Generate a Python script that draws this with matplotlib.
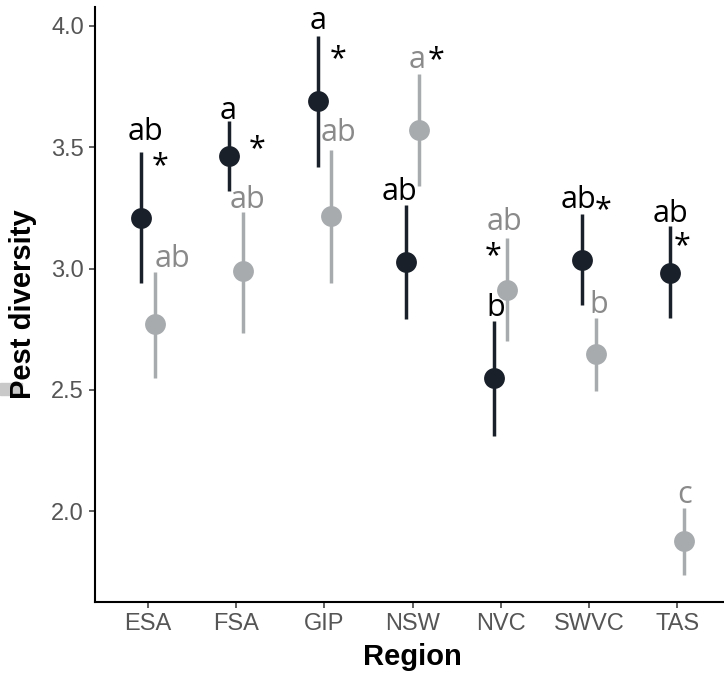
import numpy as np
import matplotlib
matplotlib.use("Agg")
import matplotlib.pyplot as plt
from matplotlib.patches import Rectangle

regions = ["ESA", "FSA", "GIP", "NSW", "NVC", "SWVC", "TAS"]

# dark series
dark_mean = [3.21, 3.465, 3.69, 3.025, 2.55, 3.037, 2.98]
dark_lo = [2.94, 3.32, 3.42, 2.79, 2.31, 2.85, 2.795]
dark_hi = [3.48, 3.61, 3.96, 3.26, 2.785, 3.225, 3.175]
dark_letters = ["ab", "a", "a", "ab", "b", "ab", "ab"]
dark_star = [True, True, True, False, False, True, True]

# grey series
grey_mean = [2.77, 2.99, 3.215, 3.57, 2.912, 2.646, 1.877]
grey_lo = [2.548, 2.735, 2.94, 3.34, 2.70, 2.495, 1.737]
grey_hi = [2.985, 3.235, 3.49, 3.80, 3.125, 2.795, 2.012]
grey_letters = ["ab", "ab", "ab", "a", "ab", "b", "c"]
grey_star = [False, False, False, True, True, False, False]

DARK = "#1a2029"
GREY = "#a8abae"
GREY_TXT = "#8a8a8a"

# label offsets in pixels: (letter dx, letter gap above bar top, star dx, star dy rel. bar top)
dark_off = [(4, 12, 19, -3), (-1, 2, 28, -18), (0, 7, 20, -13), (-6, 5, 0, 0),
            (2, 5, 0, 0), (-4, 6, 21, 15), (0, 4, 12, -9)]
grey_off = [(18, 5, 0, 0), (5, 4, 0, 0), (8, 9, 0, 0), (-2, 6, 17, 25),
            (-3, 8, -14, -7), (3, 5, 0, 0), (1, 5, 0, 0)]

fig = plt.figure(figsize=(7.24, 6.77), dpi=100)
ax = fig.add_axes([95 / 724, 75 / 677, 635 / 724, 595 / 677])

x = np.arange(len(regions))
dodge = 0.075
lab_font = "Open Sans"

for xs, mean, lo, hi, col in [(x - dodge, dark_mean, dark_lo, dark_hi, DARK),
                               (x + dodge, grey_mean, grey_lo, grey_hi, GREY)]:
    mean = np.array(mean)
    ax.vlines(xs, lo, hi, color=col, lw=2.5, zorder=2)
    ax.plot(xs, mean, "o", color=col, ms=15, mec="none", zorder=3)


def put_labels(xs, hi, letters, stars, offs, col):
    for xi, top, let, st, (ldx, lgap, sdx, sdy) in zip(xs, hi, letters, stars, offs):
        ax.annotate(let, (xi, top), xytext=(ldx, lgap), textcoords="offset pixels",
                    ha="center", va="baseline", fontsize=22, color=col,
                    family=lab_font, zorder=4)
        if st:
            # asterisk centre sits about 19 px above its baseline
            ax.annotate("*", (xi, top), xytext=(sdx, sdy - 19), textcoords="offset pixels",
                        ha="center", va="baseline", fontsize=22, color="black",
                        family=lab_font, zorder=4)


put_labels(x - dodge, dark_hi, dark_letters, dark_star, dark_off, "black")
put_labels(x + dodge, grey_hi, grey_letters, grey_star, grey_off, GREY_TXT)

ax.set_xlim(-0.6, 6.6)
ax.set_ylim(1.6255, 4.078)
ax.set_xticks(x)
ax.set_xticklabels(regions)
ax.set_yticks([2.0, 2.5, 3.0, 3.5, 4.0])
ax.set_yticklabels(["2.0", "2.5", "3.0", "3.5", "4.0"])
ax.tick_params(axis="both", labelsize=17, labelcolor="#555555", color="#444444",
               length=4, width=1.2, pad=4)
for t in ax.get_xticklabels() + ax.get_yticklabels():
    t.set_family("Liberation Sans")
for s in ["top", "right"]:
    ax.spines[s].set_visible(False)
for s in ["left", "bottom"]:
    ax.spines[s].set_linewidth(1.5)
    ax.spines[s].set_color("black")

ax.set_xlabel("Region", fontsize=21, fontweight="bold", family="Liberation Sans", labelpad=6)
ax.set_ylabel("Pest diversity", fontsize=21, fontweight="bold", family="Liberation Sans",
              labelpad=10)

# small grey remnant at the left edge, behind the y label
fig.patches.append(Rectangle((0, 1 - 395 / 677), 22 / 724, 12 / 677,
                             transform=fig.transFigure, color="#c9c9c9", zorder=-1))

fig.savefig("out.png", dpi=100)
